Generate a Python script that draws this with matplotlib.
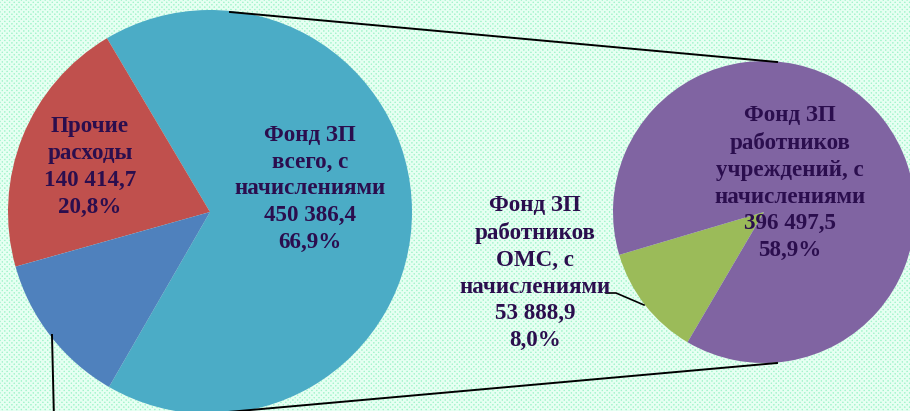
import matplotlib.pyplot as plt
from matplotlib.patches import Rectangle

# main pie (thousand rub.)
main_labels = ["Фонд ЗП\nвсего, с\nначислениями", "Прочие\nрасходы", ""]
main_values = [450386.4, 140414.7, 82900.0]
main_pct = ["66,9%", "20,8%", "12,3%"]
main_colors = ["#4BACC6", "#C0504D", "#4F81BD"]

# secondary pie: split of the wage fund
sub_labels = ["Фонд ЗП\nработников\nОМС, с\nначислениями", "Фонд ЗП\nработников\nучреждений, с\nначислениями"]
sub_values = [53888.9, 396497.5]
sub_pct = ["8,0%", "58,9%"]
sub_colors = ["#9BBB59", "#8064A2"]

W, H = 910, 411
TXT = "#2B0E4E"

plt.rcParams["font.family"] = ["Liberation Serif", "DejaVu Serif"]
plt.rcParams["hatch.linewidth"] = 1.3

fig = plt.figure(figsize=(W / 100, H / 100), dpi=100)
ax = fig.add_axes([0, 0, 1, 1])


def fmt(v):
    return f"{v:,.1f}".replace(",", " ").replace(".", ",")


def y(py):
    # image pixel row -> data y
    return H - py


# hatched mint background
ax.add_patch(Rectangle((0, 0), W, H, facecolor="#A4F4CC", edgecolor="#E6FFF2",
                       hatch="xxxxxxx", lw=0, zorder=0))

# main pie
ax.pie(main_values, colors=main_colors, startangle=240, counterclock=True,
       center=(210, y(212)), radius=202, frame=True,
       wedgeprops=dict(linewidth=0, zorder=2))

# secondary pie
ax.pie(sub_values, colors=sub_colors, startangle=196.5, counterclock=True,
       center=(764, y(212)), radius=151, frame=True,
       wedgeprops=dict(linewidth=0, zorder=2))

ax.set_xlim(0, W)
ax.set_ylim(0, H)
ax.set_aspect("equal")
ax.axis("off")

# connector lines
ax.plot([230, 777], [y(12), y(62)], color="black", lw=1.4, zorder=3)
ax.plot([228, 777], [y(412), y(363)], color="black", lw=1.4, zorder=3, clip_on=False)
ax.plot([52, 54], [y(335), y(420)], color="black", lw=1.4, zorder=3)
ax.plot([606, 616, 644], [y(293), y(293), y(305)], color="black", lw=1.2, zorder=3)

kw = dict(ha="center", va="center", fontsize=16.6, fontweight="bold", color=TXT,
          linespacing=1.36, zorder=4)

ax.text(310, y(189), f"{main_labels[0]}\n{fmt(main_values[0])}\n{main_pct[0]}", **kw)
ax.text(90, y(167), f"{main_labels[1]}\n{fmt(main_values[1])}\n{main_pct[1]}", **kw)
ax.text(790, y(183), f"{sub_labels[1]}\n{fmt(sub_values[1])}\n{sub_pct[1]}", **kw)
ax.text(535, y(273), f"{sub_labels[0]}\n{fmt(sub_values[0])}\n{sub_pct[0]}", **kw)

fig.savefig("out.png", dpi=100)
